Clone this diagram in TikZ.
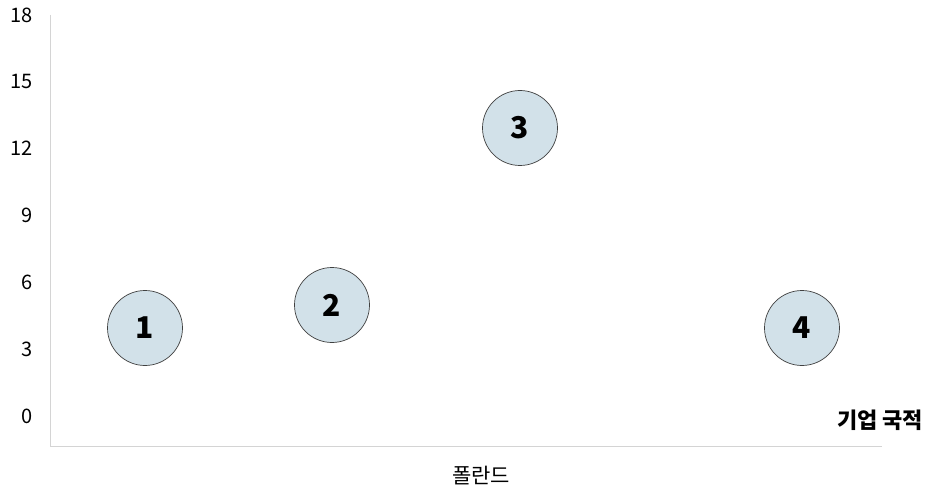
\documentclass[tikz,border=0pt]{standalone}
\usepackage{fontspec}
\setmainfont{Noto Sans CJK KR}
\definecolor{bubblefill}{HTML}{D2E1E9}
\definecolor{axisgray}{HTML}{D4D4D4}
\begin{document}
\begin{tikzpicture}[x=1pt,y=-1pt,
    bubble/.style={circle,draw=black!75,line width=0.7pt,fill=bubblefill,minimum size=75pt,inner sep=0pt,font=\fontsize{30}{30}\selectfont\bfseries},
    ticklabel/.style={anchor=east,inner sep=0pt,font=\fontsize{20}{20}\selectfont}]
    \useasboundingbox (0,0) rectangle (940,492);
    % axes
    \coordinate (ytop) at (50,15);
    \coordinate (origin) at (50,446);
    \coordinate (xend) at (882,446);
    \draw[axisgray,line width=1pt] (ytop) -- (origin) -- (xend);
    \foreach \v in {0,3,...,18}
        \node[ticklabel] (tick\v) at (33,416-\v*22.28) {\v};
    % bubbles
    \node[bubble] (b1) at (145,328) {1};
    \node[bubble] (b2) at (332,305) {2};
    \node[bubble] (b3) at (520,128) {3};
    \node[bubble] (b4) at (802,328) {4};
    \node[font=\fontsize{22}{22}\selectfont\bfseries] (xtitle) at (880,420) {기업 국적};
    \node[font=\fontsize{21}{21}\selectfont] (poland) at (481,476) {폴란드};
\end{tikzpicture}
\end{document}
